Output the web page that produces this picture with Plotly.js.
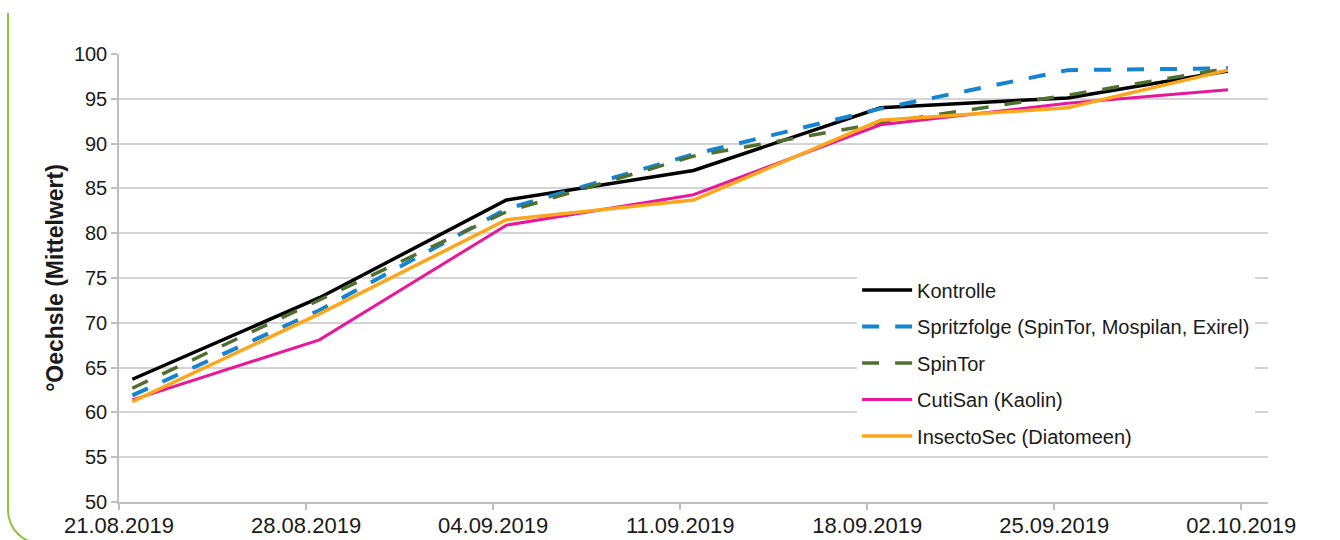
<!DOCTYPE html>
<html>
<head>
<meta charset="utf-8">
<script src="https://cdn.plot.ly/plotly-3.0.1.min.js"></script>
<style>
  html, body { margin: 0; padding: 0; background: #ffffff; overflow: hidden; }
  #chart { width: 1340px; height: 540px; position: absolute; left: 0; top: 0; }
  #frame {
    position: absolute; left: 7px; top: 13px; width: 1400px; height: 532px;
    border-left: 2px solid #8cc63f; border-bottom: 2px solid #8cc63f;
    border-bottom-left-radius: 35px; box-sizing: border-box; pointer-events: none;
  }
</style>
</head>
<body>
<div id="chart"></div>
<div id="frame"></div>
<script>
// Measurement dates (plotted mid-day, as in the source date axis)
const dates = ['2019-08-21 12:00', '2019-08-28 12:00', '2019-09-04 12:00', '2019-09-11 12:00',
               '2019-09-18 12:00', '2019-09-25 12:00', '2019-10-01 12:00'];

const seriesNames = ['Kontrolle', 'Spritzfolge (SpinTor, Mospilan, Exirel)', 'SpinTor',
                     'CutiSan (Kaolin)', 'InsectoSec (Diatomeen)'];

const kontrolle   = [63.7, 72.8, 83.7, 87.0, 94.0, 95.1, 98.1];
const spritzfolge = [61.9, 71.4, 82.7, 88.8, 93.9, 98.2, 98.4];
const spintor     = [62.7, 72.6, 82.4, 88.6, 92.3, 95.4, 98.4];
const cutisan     = [61.4, 68.1, 80.9, 84.3, 92.1, 94.5, 96.0];
const insectosec  = [61.2, 71.0, 81.5, 83.7, 92.6, 94.0, 98.2];

const yTickVals = [50, 55, 60, 65, 70, 75, 80, 85, 90, 95, 100];
const xTickVals = ['2019-08-21', '2019-08-28', '2019-09-04', '2019-09-11', '2019-09-18', '2019-09-25', '2019-10-02'];
const xTickText = ['21.08.2019', '28.08.2019', '04.09.2019', '11.09.2019', '18.09.2019', '25.09.2019', '02.10.2019'];

const values = [kontrolle, spritzfolge, spintor, cutisan, insectosec];
const styles = [
  {color: '#000000', width: 3.5, dash: 'solid'},
  {color: '#1784d0', width: 4, dash: '17px,16px'},
  {color: '#50702f', width: 3.5, dash: '17px,16px'},
  {color: '#e8189a', width: 3, dash: 'solid'},
  {color: '#fba61c', width: 3.5, dash: 'solid'}
];

const traces = values.map((v, i) => ({
  type: 'scatter', mode: 'lines', x: dates, y: v, name: seriesNames[i],
  legendgroup: 'g' + i,
  line: {color: styles[i].color, width: styles[i].width, dash: styles[i].dash},
  hoverinfo: 'x+y+name'
}));

const font = 'Liberation Sans, Arial, sans-serif';
const layout = {
  width: 1340, height: 540,
  margin: {l: 119, r: 72, t: 54, b: 38},
  paper_bgcolor: '#ffffff', plot_bgcolor: '#ffffff',
  showlegend: true,
  font: {family: font, color: '#1a1a1a'},
  xaxis: {
    type: 'date', range: ['2019-08-21', '2019-10-03'],
    tickvals: xTickVals, ticktext: xTickText,
    tickfont: {family: font, size: 22, color: '#1a1a1a'},
    ticklabelstandoff: -3,
    showgrid: false, showline: true, linecolor: '#bfbfbf', linewidth: 1.5,
    ticks: 'outside', ticklen: 6, tickcolor: '#bfbfbf', tickwidth: 1.5,
    zeroline: false, fixedrange: true
  },
  yaxis: {
    range: [50, 100], tickvals: yTickVals,
    tickfont: {family: font, size: 20, color: '#1a1a1a'},
    showgrid: true, gridcolor: '#d4d4d4', gridwidth: 1.5,
    showline: true, linecolor: '#bfbfbf', linewidth: 1.5,
    ticks: 'outside', ticklen: 6, tickcolor: '#bfbfbf', tickwidth: 1.5,
    zeroline: false, fixedrange: true,
    title: {text: '°Oechsle (Mittelwert)', font: {family: font, size: 23, color: '#1a1a1a', weight: 'bold'}, standoff: 4}
  },
  legend: {
    x: 0.6424, y: 0.5165, xanchor: 'left', yanchor: 'top',
    bgcolor: '#ffffff', borderwidth: 0,
    font: {family: font, size: 20, color: '#1a1a1a'},
    itemwidth: 50, tracegroupgap: 7.5, traceorder: 'grouped'
  }
};

Plotly.newPlot('chart', traces, layout, {displayModeBar: false, staticPlot: false});
</script>
</body>
</html>
